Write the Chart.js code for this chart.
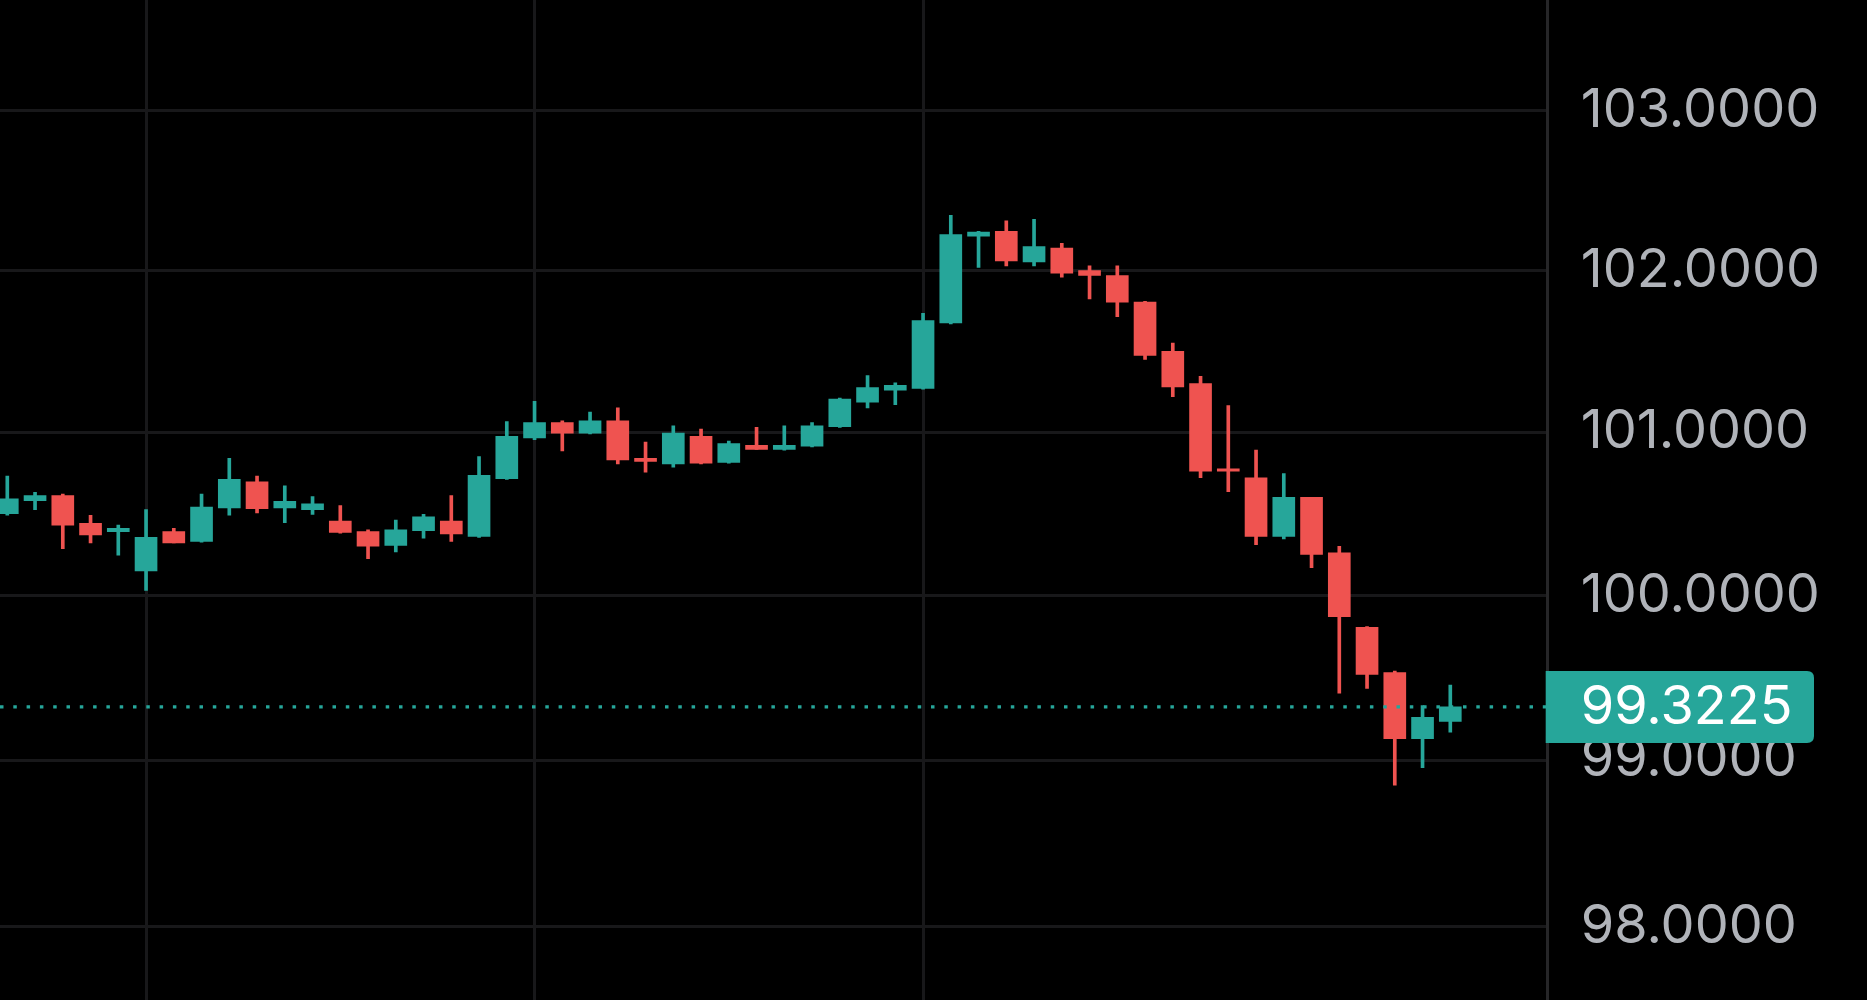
<!DOCTYPE html>
<html><head><meta charset="utf-8">
<script src="https://cdn.jsdelivr.net/npm/chart.js@4.4.1/dist/chart.umd.min.js"></script>
<style>html,body{margin:0;padding:0;background:#000;overflow:hidden}#wrap{width:1867px;height:1000px;position:relative}</style>
</head><body><div id="wrap"><canvas id="c"></canvas></div>
<script>
const openP  = [100.50,100.58,100.61,100.44,100.39,100.15,100.39,100.33,100.535,100.695,100.535,100.525,100.455,100.39,100.305,100.395,100.455,100.36,100.715,100.965,101.06,100.995,101.07,100.84,100.805,100.975,100.815,100.92,100.895,100.915,101.035,101.185,101.26,101.27,101.675,102.215,102.245,102.055,102.14,102.00,101.97,101.805,101.50,101.30,100.775,100.72,100.36,100.60,100.26,99.805,99.53,99.13,99.235];
const highP  = [100.73,100.63,100.62,100.49,100.43,100.525,100.41,100.62,100.84,100.73,100.67,100.605,100.55,100.40,100.46,100.495,100.61,100.85,101.065,101.19,101.07,101.125,101.15,100.94,101.04,101.02,100.945,101.03,101.04,101.06,101.21,101.35,101.305,101.735,102.345,102.245,102.31,102.32,102.17,102.03,102.03,101.81,101.55,101.345,101.165,100.89,100.745,100.60,100.30,99.81,99.54,99.33,99.455];
const lowP   = [100.49,100.525,100.285,100.32,100.245,100.03,100.32,100.325,100.49,100.505,100.445,100.495,100.38,100.225,100.265,100.35,100.33,100.355,100.71,100.955,100.885,100.99,100.805,100.755,100.785,100.805,100.81,100.895,100.89,100.91,101.03,101.15,101.17,101.265,101.67,102.02,102.03,102.03,101.96,101.825,101.715,101.45,101.22,100.72,100.635,100.31,100.345,100.17,99.405,99.435,98.85,98.955,99.17];
const closeP = [100.59,100.61,100.43,100.37,100.41,100.355,100.32,100.54,100.71,100.53,100.575,100.56,100.385,100.30,100.40,100.48,100.375,100.735,100.975,101.06,100.995,101.07,100.83,100.82,100.995,100.81,100.93,100.895,100.92,101.04,101.205,101.275,101.29,101.69,102.225,102.24,102.06,102.15,101.985,101.97,101.805,101.475,101.28,100.76,100.76,100.36,100.60,100.25,99.87,99.52,99.13,99.26,99.3225];
const priceTicks = [98,99,100,101,102,103];
const timeGridIdx = [5,19,33];
const lastPrice = 99.3225;
const lastPriceLabel = '99.3225';

const UP = '#26a69a', DOWN = '#ef5350';
const GRID = '#18181a';
const FONT = 'Inter, "Noto Sans", sans-serif';
const colorOf = i => (closeP[i] >= openP[i] ? UP : DOWN);

const priceLinePlugin = {
  id: 'priceLine',
  afterDatasetsDraw(chart) {
    const {ctx, chartArea} = chart;
    const y = chart.scales.y.getPixelForValue(lastPrice);
    ctx.save();
    ctx.strokeStyle = UP;
    ctx.lineWidth = 3.3;
    ctx.setLineDash([3.5, 9.8]);
    ctx.beginPath();
    ctx.moveTo(chartArea.left, y);
    ctx.lineTo(chartArea.right, y);
    ctx.stroke();
    ctx.restore();
  },
  afterDraw(chart) {
    const {ctx, chartArea} = chart;
    const y = chart.scales.y.getPixelForValue(lastPrice);
    const x0 = chartArea.right - 2, x1 = 1814, h = 72, r = 7;
    const y0 = y - h / 2, y1 = y + h / 2;
    ctx.save();
    ctx.fillStyle = UP;
    ctx.beginPath();
    ctx.moveTo(x0, y0);
    ctx.lineTo(x1 - r, y0);
    ctx.quadraticCurveTo(x1, y0, x1, y0 + r);
    ctx.lineTo(x1, y1 - r);
    ctx.quadraticCurveTo(x1, y1, x1 - r, y1);
    ctx.lineTo(x0, y1);
    ctx.closePath();
    ctx.fill();
    ctx.fillStyle = '#ffffff';
    ctx.font = '54px ' + FONT;
    ctx.textBaseline = 'middle';
    ctx.textAlign = 'left';
    ctx.fillText(lastPriceLabel, chartArea.right + 33, y + 1);
    ctx.restore();
  }
};

new Chart(document.getElementById('c'), {
  type: 'bar',
  data: {
    datasets: [
      {
        label: 'wick',
        data: highP.map((h, i) => ({x: i, y: [lowP[i], h]})),
        backgroundColor: ctx => colorOf(ctx.dataIndex),
        barThickness: 3,
        grouped: false,
        borderWidth: 0,
        order: 2
      },
      {
        label: 'body',
        data: openP.map((o, i) => ({x: i, y: [o, closeP[i]]})),
        backgroundColor: ctx => colorOf(ctx.dataIndex),
        barThickness: 22,
        grouped: false,
        borderWidth: 0,
        order: 1
      }
    ]
  },
  options: {
    responsive: true,
    maintainAspectRatio: false,
    animation: false,
    layout: {padding: 0},
    plugins: {legend: {display: false}, tooltip: {enabled: false}},
    scales: {
      x: {
        type: 'linear',
        min: -0.263,
        max: 55.51,
        offset: false,
        grid: {color: GRID, lineWidth: 3, drawTicks: false, offset: false},
        border: {display: false},
        ticks: {display: false},
        afterBuildTicks: s => { s.ticks = timeGridIdx.map(v => ({value: v})); },
        afterFit: s => { s.height = 0; s.paddingLeft = 0; s.paddingRight = 0; }
      },
      y: {
        type: 'logarithmic',
        position: 'right',
        min: 97.563,
        max: 103.6976,
        grid: {color: GRID, lineWidth: 3, drawTicks: false},
        border: {display: true, color: '#262628', width: 3},
        ticks: {
          color: '#b0b3b9',
          font: {family: FONT, size: 54},
          padding: 33,
          autoSkip: false,
          callback: v => Number(v).toFixed(4)
        },
        afterBuildTicks: s => { s.ticks = priceTicks.map(v => ({value: v})); },
        afterFit: s => { s.width = 1867 - 1547.7; s.paddingTop = 0; s.paddingBottom = 0; }
      }
    }
  },
  plugins: [priceLinePlugin]
});
</script>
</body></html>
